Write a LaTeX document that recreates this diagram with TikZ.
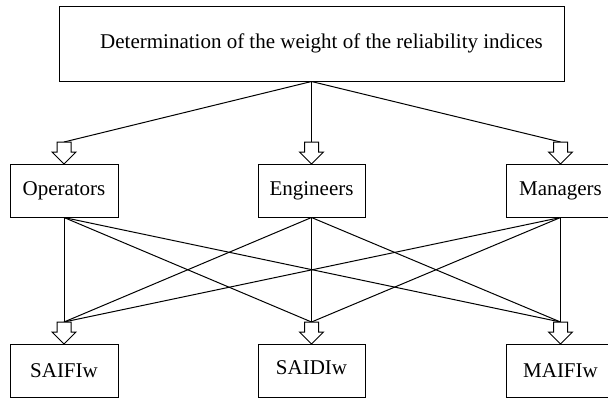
\documentclass[tikz,border=0pt]{standalone}
\usepackage{fontspec}
\setmainfont{Liberation Serif}
\begin{document}
\begin{tikzpicture}[x=1pt,y=-1pt,
  every node/.style={font=\fontsize{21}{25}\selectfont},
  box/.style={draw,line width=1pt,minimum width=108pt,minimum height=53pt,inner sep=0pt},
  link/.style={line width=1pt},
  blockarrow/.pic={\draw[line width=1pt,fill=white,line join=miter] (-7,0) -- (7,0) -- (7,10) -- (12,10) -- (0,22) -- (-12,10) -- (-7,10) -- cycle;}]
\useasboundingbox (0,0) rectangle (608,400);
% top
\node[box,minimum width=505pt,minimum height=75pt] (top) at (311.5,43.5) {\hspace*{20pt}Determination of the weight of the reliability indices};
% middle
\node[box] (op) at (64,190.5) {Operators};
\node[box,minimum width=107pt] (en) at (311.5,190.5) {Engineers};
\node[box] (ma) at (560.5,190.5) {Managers};
% bottom
\node[box] (sf) at (64,370.5) {SAIFIw};
\node[box,minimum width=107pt] (sd) at (311.5,370.5) {\raisebox{5pt}{SAIDIw}};
\node[box] (mf) at (560.5,370.5) {MAIFIw};
% arrow tops
\coordinate (aop) at (64,142);
\coordinate (aen) at (311.5,142);
\coordinate (ama) at (560.5,142);
\coordinate (asf) at (64,322);
\coordinate (asd) at (311.5,322);
\coordinate (amf) at (560.5,322);
% links
\foreach \t in {aop,aen,ama} \draw[link] (top.south) -- (\t);
\foreach \s in {op,en,ma}
  \foreach \t in {asf,asd,amf}
    \draw[link] (\s.south) -- (\t);
% block arrows
\foreach \t in {aop,aen,ama,asf,asd,amf} \pic at (\t) {blockarrow};
\end{tikzpicture}
\end{document}
